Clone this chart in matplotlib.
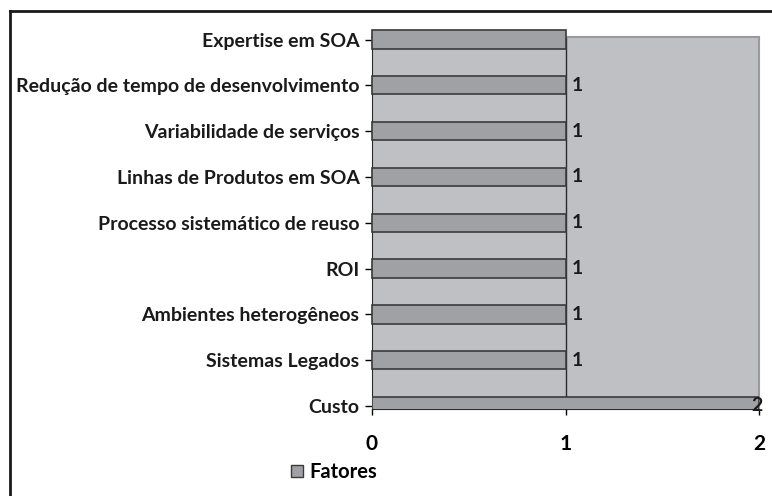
import matplotlib.pyplot as plt
from matplotlib.lines import Line2D
from matplotlib.patches import Patch

categorias = ["Custo", "Sistemas Legados", "Ambientes heterogêneos", "ROI",
              "Processo sistemático de reuso", "Linhas de Produtos em SOA",
              "Variabilidade de serviços", "Redução de tempo de desenvolvimento",
              "Expertise em SOA"]
valores = [2, 1, 1, 1, 1, 1, 1, 1, 1]
rotulos = ["2", "1", "1", "1", "1", "1", "1", "1", ""]
xticks = [0, 1, 2]

plt.rcParams['font.family'] = ['Lato', 'DejaVu Sans']

fig = plt.figure(figsize=(7.72, 4.96), dpi=100)
ax = fig.add_axes([372/772, 87/496, 387/772, 372/496])
ax.set_facecolor("#bfc0c4")

pos = list(range(len(categorias)))
bars = ax.barh(pos, valores, height=0.40, color="#a0a1a5", edgecolor="#3a3a3a",
               linewidth=1.2, zorder=3, label="Fatores")
for b in bars:
    b.set_clip_on(False)
bars[0].set_clip_on(True)

for p, v, r in zip(pos, valores, rotulos):
    if r:
        ax.text(v + 0.03 if v < 2 else v - 0.04, p, r, va="center", ha="left",
                fontsize=14, fontweight="bold", color="#1a1a1a", zorder=5)

ax.axvline(1, color="#2a2a2a", linewidth=1, zorder=2)
ax.set_xlim(0, 2)
ax.set_ylim(-0.066, 8.055)
ax.set_xticks(xticks)
ax.set_xticklabels([str(x) for x in xticks], fontsize=15, fontweight="bold")
ax.set_yticks(pos)
ax.set_yticklabels(categorias, fontsize=14, fontweight="bold", color="#1a1a1a")
ax.tick_params(axis="y", length=5, width=1, direction="out", pad=4)
ax.tick_params(axis="x", length=4, width=1, direction="out", pad=14)

for s in ["top", "right"]:
    ax.spines[s].set_color("#9a9a9a")
    ax.spines[s].set_linewidth(1.5)
ax.spines["left"].set_color("#2a2a2a")
ax.spines["bottom"].set_color("#2a2a2a")

fig.legend(handles=[Patch(facecolor="#a0a1a5", edgecolor="#3a3a3a", label="Fatores")],
           loc="center", bbox_to_anchor=(334/772, 1 - 472/496), frameon=False,
           prop={"size": 14.5, "weight": "bold"}, handlelength=0.6, handleheight=0.6,
           handletextpad=0.35)

# moldura da figura
fig.add_artist(Line2D([10/772, 10/772], [0, 1 - 11/496], transform=fig.transFigure,
                      color="#1a1a1a", linewidth=2))
fig.add_artist(Line2D([10/772, 1], [1 - 11/496, 1 - 11/496], transform=fig.transFigure,
                      color="#1a1a1a", linewidth=2))

fig.savefig("out.png", dpi=100)
